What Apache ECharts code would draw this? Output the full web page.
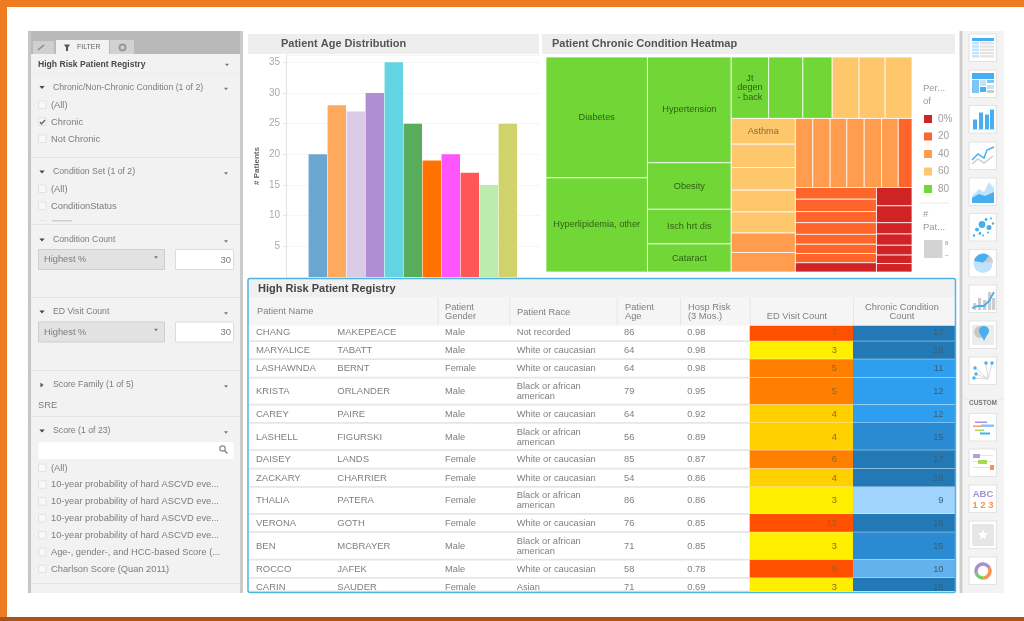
<!DOCTYPE html>
<html>
<head>
<meta charset="utf-8">
<title>High Risk Patient Registry</title>
<style>
html,body{margin:0;padding:0;background:#fff;}
#main{width:1024px;height:621px;filter:blur(0.5px);}
</style>
<script src="https://cdn.jsdelivr.net/npm/echarts@6/dist/echarts.min.js"></script>
</head>
<body>
<div id="main"></div>
<script>
// bar chart
var ageBands = ['1','2','3','4','5','6','7','8','9','10','11'];
var agePatients = [20,28,27,30,35,25,19,20,17,15,25];
var ageColors = ['#6aa6d0','#ffa95e','#d9cae6','#b08dd4','#64d3e2','#57ad5b','#ff7200','#ff55ff','#ff5659','#bdecb1','#cfd36a'];

// heatmap cells, largest blocks first
var cellLabels = ['Diabetes','Hyperlipidemia, other','Hypertension','Obesity','Isch hrt dis','Cataract',
	'Jt\ndegen\n- back','','','','','',
	'Asthma','','','','','','',
	'','','','','','','',
	'','','','','','','','',
	'','','','','','',''];
var cellPatients = [245,191,177,78,58,47,
	46,42,36,33,32,33,
	33,30,29,28,27,25,25,
	24,24,23,24,24,23,19,
	19,20,18,19,16,15,15,15,
	13,12,8,8,7,6,6];
var cellPercent = [80,80,80,80,80,80,
	80,80,80,60,60,60,
	60,60,60,60,60,40,40,
	40,40,40,40,40,40,20,
	20,20,20,20,20,20,20,0,
	0,0,0,0,0,0,0];
var bandLabels = ['0%','20','40','60','80'];
var bandColors = ['#cf2325','#ff642a','#ff9c4e','#ffc76c','#71d736'];

// registry table
var firstNames = ['CHANG','MARYALICE','LASHAWNDA','KRISTA','CAREY','LASHELL','DAISEY','ZACKARY','THALIA','VERONA','BEN','ROCCO','CARIN'];
var lastNames = ['MAKEPEACE','TABATT','BERNT','ORLANDER','PAIRE','FIGURSKI','LANDS','CHARRIER','PATERA','GOTH','MCBRAYER','JAFEK','SAUDER'];
var genders = ['Male','Male','Female','Male','Male','Male','Female','Female','Female','Female','Male','Male','Female'];
var races = ['Not recorded','White or caucasian','White or caucasian','Black or african\namerican','White or caucasian','Black or african\namerican','White or caucasian','White or caucasian','Black or african\namerican','White or caucasian','Black or african\namerican','White or caucasian','Asian'];
var ages = [86,64,64,79,64,56,85,54,86,76,71,58,71];
var hospRisk = ['0.98','0.98','0.98','0.95','0.92','0.89','0.87','0.86','0.86','0.85','0.85','0.78','0.69'];
var edVisits = [7,3,5,5,4,4,6,4,3,13,3,9,3];
var chronicCounts = [17,19,11,12,12,15,17,18,9,18,15,10,18];

// side panel lists
var scoreItems = ['(All)','10-year probability of hard ASCVD eve...','10-year probability of hard ASCVD eve...','10-year probability of hard ASCVD eve...','10-year probability of hard ASCVD eve...','Age-, gender-, and HCC-based Score (...','Charlson Score (Quan 2011)'];

var FONT = '"Liberation Sans", Arial, sans-serif';
var g = [];  // graphic elements

function rect(x,y,w,h,fill,stroke,lw){
	g.push({type:'rect',silent:true,shape:{x:x,y:y,width:w,height:h},style:{fill:fill,stroke:stroke||null,lineWidth:lw||0}});
}
function text(s,x,y,size,color,o){
	o = o||{};
	g.push({type:'text',silent:true,rotation:o.rot||0,style:{text:s,x:x,y:y,fill:color,
		font:(o.bold?'bold ':'')+size+'px '+FONT,align:o.align||'left',verticalAlign:'middle',lineHeight:o.lh||size+1}});
}
function poly(pts,fill){
	g.push({type:'polygon',silent:true,shape:{points:pts},style:{fill:fill}});
}
function line(pts,color,lw){
	g.push({type:'polyline',silent:true,shape:{points:pts},style:{stroke:color,lineWidth:lw||1,fill:null}});
}
function dot(x,y,r,fill){
	g.push({type:'circle',silent:true,shape:{cx:x,cy:y,r:r},style:{fill:fill}});
}
function arrowDown(x,y,s,c){ poly([[x-s,y-s*0.6],[x+s,y-s*0.6],[x,y+s*0.6]],c||'#777'); }
function arrowRight(x,y,s,c){ poly([[x-s*0.6,y-s],[x-s*0.6,y+s],[x+s*0.6,y]],c||'#555'); }
function checkbox(y,checked){
	rect(38.5,y-4,7.5,7.5,'#f8f8f8','#e2e2e2',1);
	if(checked) line([[40,y],[41.5,y+2],[45,y-2]],'#666',1.4);
}

// page frame
rect(0,0,1024,7,'#ee7a22');
rect(0,0,7,621,'#ee7a22');
rect(0,617,1024,4,'#a9541d');

// ----- left filter panel
var TXT = '#7c7c7c';
rect(28,31,215,562,'#f2f2f2');
rect(28,31,3,562,'#c6c6c6');
rect(240,31,3,562,'#cbcbcb');
rect(31,31,209,23,'#b9b9b9');
rect(33,41,21,13,'#cfcfcf');
rect(56,40,53,14,'#f2f2f2');
rect(110,40,24,14,'#d2d2d2');
line([[38,50],[44,45]],'#888',1.5);
poly([[64,44.5],[70,44.5],[68,47.5],[68,51],[66,51],[66,47.5]],'#555');
text('FILTER',77,47.5,7,'#666');
g.push({type:'circle',silent:true,shape:{cx:122.5,cy:47.5,r:3},style:{fill:'none',stroke:'#999',lineWidth:2}});

text('High Risk Patient Registry',38,64.5,8.6,'#4a4a4a',{bold:true});
arrowDown(227,65,2);
rect(31,73,209,1,'#ececec');

function filterHead(s,y,right){
	if(right) arrowRight(42,y,2.6); else arrowDown(42,y,2.6,'#444');
	text(s,53,y,8.7,TXT);
	arrowDown(226,y+1.5,2);
}
filterHead('Chronic/Non-Chronic Condition (1 of 2)',87.5);
checkbox(105); text('(All)',51,105,9.3,TXT);
checkbox(122,true); text('Chronic',51,122,9.3,TXT);
checkbox(139); text('Not Chronic',51,139,9.3,TXT);
rect(31,157,209,1,'#e4e4e4');

filterHead('Condition Set (1 of 2)',172);
checkbox(189); text('(All)',51,189,9.3,TXT);
checkbox(206); text('ConditionStatus',51,206.5,9.3,TXT);
rect(40,220,6,1,'#e6e6e6'); rect(52,220,20,1.5,'#cfcfcf');
rect(31,224,209,1,'#e4e4e4');

function selectRow(y){
	rect(38.5,y,126,20,'#e2e2e2','#cfcfcf',1);
	text('Highest %',44,y+10,9.3,TXT);
	arrowDown(156,y+8,2);
	rect(175.5,y,58,20,'#fff','#dcdcdc',1);
	text('30',231,y+10.5,9.5,TXT,{align:'right'});
}
filterHead('Condition Count',240);
selectRow(249.5);
rect(31,297,209,1,'#e4e4e4');
filterHead('ED Visit Count',312);
selectRow(322);
rect(31,370,209,1,'#e4e4e4');
filterHead('Score Family (1 of 5)',385,true);
text('SRE',38,405,9.3,TXT);
rect(31,416,209,1,'#e4e4e4');
filterHead('Score (1 of 23)',431);
rect(38.5,442,195,17,'#fff');
g.push({type:'circle',silent:true,shape:{cx:222.5,cy:448.5,r:2.7},style:{fill:'none',stroke:'#888',lineWidth:1.2}});
line([[224.5,450.5],[227.5,453.5]],'#888',1.5);
scoreItems.forEach(function(s,i){
	var y = 468 + i*16.85;
	checkbox(y);
	text(s,51,y,9.3,TXT);
});
rect(31,583,209,1,'#e4e4e4');

// ----- chart headers
rect(248,34,291,20,'#eeeeee');
text('Patient Age Distribution',281,43.5,11,'#555',{bold:true});
rect(542,34,413,20,'#eeeeee');
text('Patient Chronic Condition Heatmap',552,43.5,11,'#555',{bold:true});

// ----- heatmap legend
text('Per...',923,88,9.5,'#999');
text('of',923,101,9.5,'#999');
bandLabels.forEach(function(s,i){
	var y = 119 + i*17.5;
	rect(924,y-4,8,8,bandColors[i]);
	text(s,938,y,10,'#a0a0a0');
});
rect(919,202.5,30,1,'#e8e8e8');
text('#',923,214,9.5,'#999');
text('Pat...',923,227,9.5,'#999');
rect(924,240,18.5,18,'#d3d3d3');
text('8',945,243,6,'#999');
text('~',945,255,6,'#999');

// ----- table frame
rect(248,279,707,18.5,'#f0f0f0');
rect(248,297.5,707,28,'#f5f5f5');
text('High Risk Patient Registry',258,288.5,11,'#444',{bold:true});
var hc = '#808080';
text('Patient Name',257,311.5,9.3,hc);
text('Patient\nGender',445,312,9.3,hc,{lh:9.5});
text('Patient Race',517,312,9.3,hc);
text('Patient\nAge',625,312,9.3,hc,{lh:9.5});
text('Hosp Risk\n(3 Mos.)',688,312,9.3,hc,{lh:9.5});
text('ED Visit Count',797,316.7,9.3,hc,{align:'center'});
text('Chronic Condition\nCount',902,312,9.3,hc,{align:'center',lh:9.5});
[437.7,509.3,616.7,680,749.7,853].forEach(function(x){ rect(x,298,1,27.5,'#e6e6e6'); });

// ----- right tool strip
rect(960,31,44,562,'#f3f3f3');
rect(959.5,31,3,562,'#cdcdcd');
rect(962,399,42,1,'#ebebeb');
text('CUSTOM',983,403.5,6.5,'#777',{bold:true,align:'center'});

var B = '#47aef0', L = '#bfe3fb', G = '#cdcdcd';
var iconTops = [34,70,105.5,142,178,213.5,249.5,285,321,357,413.5,449,485,521,557];
var icons = [
	function(x,y){ rect(x+3,y+4,22,3,B); for(var r=0;r<5;r++){ rect(x+3,y+8+r*3.3,7,2.4,L); rect(x+11,y+8+r*3.3,14,2.4,'#e4e4e4'); } },
	function(x,y){ rect(x+3,y+3,22,6,B); rect(x+3,y+10,7,13,'#7cc5f4'); rect(x+11,y+10,6,6,L); rect(x+18,y+10,7,3,'#7cc5f4'); rect(x+11,y+17,6,5,B); rect(x+18,y+15,7,4,L); rect(x+18,y+20,7,3,G); },
	function(x,y){ [[4,10],[10,17],[16,15],[21,20]].forEach(function(b){ rect(x+b[0],y+25-b[1]-1,4,b[1],B); }); rect(x+3,y+24,23,0.8,'#ddd'); },
	function(x,y){ line([[x+3,y+22],[x+9,y+17],[x+15,y+21],[x+24,y+14]],G,1.5); line([[x+3,y+18],[x+9,y+12],[x+15,y+16],[x+18,y+8],[x+25,y+5]],B,1.5); },
	function(x,y){ poly([[x+3,y+18],[x+10,y+11],[x+15,y+14],[x+20,y+4],[x+25,y+10],[x+25,y+25],[x+3,y+25]],L); poly([[x+3,y+20],[x+10,y+16],[x+16,y+18],[x+25,y+14],[x+25,y+25],[x+3,y+25]],B); },
	function(x,y){ [[13,11,3.4],[20,14,2.5],[8,16,2],[11,20,1.4],[17,6,1.4],[22,5,1],[24,10,1.2],[5,22,1.2],[14,22,1],[19,19,1]].forEach(function(c){ dot(x+c[0],y+c[1],c[2],B); }); },
	function(x,y){ dot(x+14,y+14,9.5,L); g.push({type:'sector',silent:true,shape:{cx:x+14,cy:y+13,r:9,r0:0,startAngle:Math.PI*1.05,endAngle:Math.PI*1.8},style:{fill:B}}); g.push({type:'sector',silent:true,shape:{cx:x+15,cy:y+13,r:9,r0:0,startAngle:Math.PI*1.7,endAngle:Math.PI*2},style:{fill:G}}); },
	function(x,y){ [[4,7],[9,12],[14,10],[19,18],[23,12]].forEach(function(b){ rect(x+b[0],y+25-b[1],3.2,b[1],G); }); line([[x+3,y+23],[x+9,y+21],[x+15,y+21],[x+20,y+16],[x+25,y+7]],B,1.8); },
	function(x,y){ rect(x+3,y+4,22,20,'#ececec'); dot(x+11,y+11,6,'#c8c8c8'); dot(x+15,y+10,5,B); poly([[x+11,y+12],[x+19,y+12],[x+15,y+20]],B); },
	function(x,y){ [[5,21],[6,11],[7,17],[17,6],[23,6]].forEach(function(p){ line([[x+p[0],y+p[1]],[x+19,y+22]],'#d8d8d8',1); dot(x+p[0],y+p[1],1.7,B); }); },
	function(x,y){ rect(x+6,y+8,12,1.4,'#9d8ad6'); rect(x+4,y+12,8,1.4,'#ff8f4a'); rect(x+12,y+11,13,2.4,'#7cc5f4'); rect(x+6,y+16,9,1.6,'#a5d94f'); rect(x+11,y+19,10,2,B); },
	function(x,y){ rect(x+4,y+6,20,0.8,'#ddd'); rect(x+4,y+12,20,0.8,'#ddd'); rect(x+4,y+18,20,0.8,'#ddd'); rect(x+4,y+5,7,4,'#b39ddb'); rect(x+9,y+11,9,4,'#a5d94f'); rect(x+21,y+16,4,5,'#ff8f4a'); },
	function(x,y){ text('ABC',x+14,y+9,9.5,'#a78fd8',{bold:true,align:'center'}); text('1 2 3',x+14,y+20,9.5,'#ff8f4a',{bold:true,align:'center'}); },
	function(x,y){
		rect(x+3,y+3,22,22,'#e6e6e6');
		var pts = [];
		for(var k=0;k<10;k++){
			var r = k%2 ? 2.4 : 5.5, a = -Math.PI/2 + k*Math.PI/5;
			pts.push([x+14+r*Math.cos(a),y+14+r*Math.sin(a)]);
		}
		poly(pts,'#fff');
	},
	function(x,y){
		var c = [['#ff8f4a',2.6,4.6],['#7bc96f',4.6,6.0],['#a78fd8',6.0,8.9]];
		c.forEach(function(a){
			g.push({type:'arc',silent:true,shape:{cx:x+14,cy:y+14,r:7,startAngle:a[1]-Math.PI,endAngle:a[2]-Math.PI},style:{fill:null,stroke:a[0],lineWidth:3.5}});
		});
	}
];
iconTops.forEach(function(top,i){
	rect(969,top,27.5,27.5,'#fff','#e3e3e3',1.2);
	icons[i](969,top);
});

// heatmap layout: 'row' puts children side by side, 'col' stacks them, numbers index the cell arrays
var cellTree = ['row',[
	['col',[0,1]],
	['col',[2,3,4,5]],
	['col',[
		['row',[6,7,8,9,10,11]],
		['row',[
			['col',[12,13,14,15,16,17,18]],
			['col',[
				['row',[19,20,21,22,23,24,25]],
				['row',[
					['col',[26,27,28,29,30,31,32,33]],
					['col',[34,35,36,37,38,39,40]]
				]]
			]]
		]]
	]]
]];
function nodeSum(n){
	if(typeof n === 'number') return cellPatients[n];
	return n[1].reduce(function(s,c){ return s+nodeSum(c); },0);
}
function layoutCells(n,x,y,w,h,out){
	if(typeof n === 'number'){ out[n] = [x,y,x+w,y+h,cellPatients[n],cellPercent[n]]; return; }
	var total = nodeSum(n), pos = 0;
	n[1].forEach(function(c){
		var f = nodeSum(c)/total;
		if(n[0] === 'row') layoutCells(c,x+pos*w,y,f*w,h,out);
		else layoutCells(c,x,y+pos*h,w,f*h,out);
		pos += f;
	});
}
var cellRects = [];
layoutCells(cellTree,0,0,1,1,cellRects);

function bandColor(pct){
	return bandColors[Math.min(4,Math.floor(pct/20))];
}
function renderCell(params,api){
	var a = api.coord([api.value(0),api.value(1)]);
	var b = api.coord([api.value(2),api.value(3)]);
	var label = cellLabels[params.dataIndex];
	var kids = [{type:'rect',shape:{x:a[0],y:a[1],width:b[0]-a[0],height:b[1]-a[1]},
		style:{fill:bandColor(api.value(5)),stroke:'rgba(255,255,255,0.75)',lineWidth:1}}];
	if(label){
		kids.push({type:'text',style:{text:label,x:(a[0]+b[0])/2,y:params.dataIndex===12?a[1]+13:(a[1]+b[1])/2,
			fill:params.dataIndex===12?'#8a6a3c':'#2f5f17',font:'9.2px '+FONT,align:'center',verticalAlign:'middle',lineHeight:9.5}});
	}
	return {type:'group',children:kids};
}

// table row layout
var rowBottom = [341.3,359.3,377.7,404.7,423,450.3,468.7,487,514,532.3,559.7,578,591.5];
var rowTextY = [332.3,350.7,368.7,391,414.3,437,459.7,478,500.3,523.3,546,569,587];
var edSteps = [[13,'#ff5000'],[7,'#ff5000'],[5,'#ff8000'],[4,'#ffd000'],[0,'#ffee00']];
var chronicSteps = [[17,'#2279b5'],[15,'#2a8bd2'],[11,'#2e9fef'],[10,'#63b2ee'],[0,'#a0d4fc']];
function stepColor(steps,v){
	for(var i=0;i<steps.length;i++) if(v>=steps[i][0]) return steps[i][1];
}
function renderRow(params){
	var i = params.dataIndex, top = i ? rowBottom[i-1] : 325.7, h = rowBottom[i]-top, y = rowTextY[i];
	var c = '#7f7f7f', f = '9.3px '+FONT;
	function t(s,x,align,color,font){
		return {type:'text',style:{text:String(s),x:x,y:y,fill:color||c,font:font||f,align:align||'left',verticalAlign:'middle',lineHeight:10}};
	}
	return {type:'group',children:[
		{type:'rect',shape:{x:749.7,y:top,width:103.5,height:h},style:{fill:stepColor(edSteps,edVisits[i])}},
		{type:'rect',shape:{x:853,y:top,width:102,height:h},style:{fill:stepColor(chronicSteps,chronicCounts[i])}},
		{type:'rect',shape:{x:249,y:rowBottom[i]-1,width:501,height:1.8},style:{fill:'#e6e6e6'}},
		{type:'rect',shape:{x:749.7,y:rowBottom[i]-0.5,width:205.3,height:1},style:{fill:'rgba(255,255,255,0.7)'}},
		t(firstNames[i],256,'left',c,'9.5px '+FONT),
		t(lastNames[i],337.3,'left',c,'9.5px '+FONT),
		t(genders[i],445),
		t(races[i],516.7),
		t(ages[i],624),
		t(hospRisk[i],687.3),
		t(edVisits[i],837,'right','#8a6a20'),
		t(chronicCounts[i],943.5,'right','#3a5f7a')
	]};
}

var myChart = echarts.init(document.getElementById('main'));
myChart.setOption({
	animation: false,
	backgroundColor: '#fff',
	graphic: {elements: g},
	grid: [
		{left:286,top:55,width:254,height:222},    // axis and guide lines
		{left:308.3,top:55,width:209,height:222},  // bars
		{left:546,top:57,width:366,height:215}     // heatmap
	],
	xAxis: [
		{gridIndex:0,type:'value',min:0,max:1,show:false},
		{gridIndex:1,type:'category',data:ageBands,axisLine:{show:false},axisTick:{show:false},axisLabel:{show:false}},
		{gridIndex:2,type:'value',min:0,max:1,show:false}
	],
	yAxis: [
		{
			gridIndex:0,type:'value',min:0,max:36.2,interval:5,
			name:'# Patients',nameLocation:'middle',nameGap:25,
			nameTextStyle:{color:'#666',fontSize:8,fontWeight:'bold',fontFamily:FONT},
			axisLine:{show:true,lineStyle:{color:'#e4e4e4'}},
			axisTick:{show:true,length:3,lineStyle:{color:'#e4e4e4'}},
			axisLabel:{color:'#aaa',fontSize:10,fontFamily:FONT,showMinLabel:false,showMaxLabel:false,margin:6},
			splitLine:{show:true,lineStyle:{color:'#f6f6f6'}}
		},
		{gridIndex:1,type:'value',min:0,max:36.2,show:false},
		{gridIndex:2,type:'value',min:0,max:1,inverse:true,show:false}
	],
	series: [
		{
			type:'bar',xAxisIndex:1,yAxisIndex:1,data:agePatients,
			colorBy:'data',color:ageColors,barCategoryGap:'3%'
		},
		{
			type:'custom',xAxisIndex:2,yAxisIndex:2,data:cellRects,
			renderItem:renderCell,silent:true,clip:false
		},
		{
			type:'custom',coordinateSystem:'none',data:firstNames.map(function(n,i){ return i; }),
			renderItem:renderRow,silent:true,z:3
		},
		{
			// blue frame goes on top of the table
			type:'custom',coordinateSystem:'none',data:[0],silent:true,z:5,
			renderItem:function(){
				return {type:'rect',shape:{x:248,y:278.5,width:707.5,height:314,r:2},
					style:{fill:null,stroke:'#4fb4e2',lineWidth:1.5}};
			}
		}
	]
});

window.onresize = function(){
	myChart.resize();
};
</script>
</body>
</html>
